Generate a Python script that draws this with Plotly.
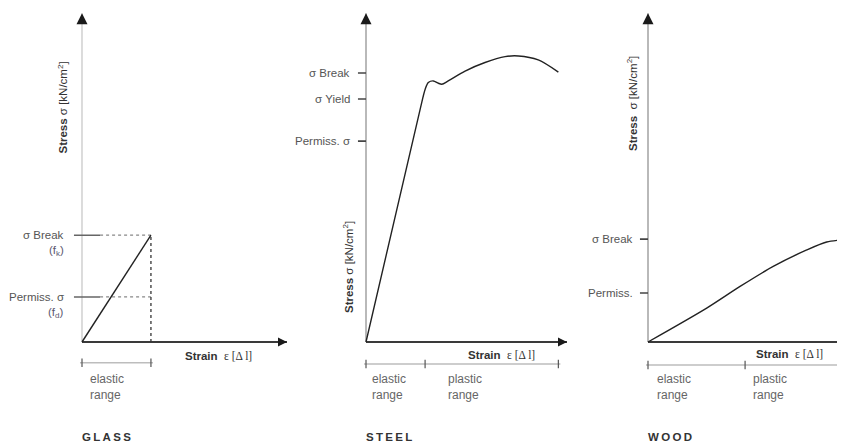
import plotly.graph_objects as go

# page body adds an 8px margin; the figure is shrunk and shifted to compensate
OFF = 8
W, H = 845 - OFF, 443 - OFF

# ---------------- data (strain: % of axis length, stress: % of axis height) ----------------
glass_strain = [0, 34.3]
glass_stress = [0, 32.5]
glass_ticks = [32.5, 13.7]
glass_tick_labels = ["σ Break", "Permiss. σ"]
glass_tick_sublabels = ["(f<sub>k</sub>)", "(f<sub>d</sub>)"]
glass_range_bounds = [0, 34.3]
glass_range_labels = ["elastic<br>range"]

steel_strain = [0, 26.9, 29.4, 31.0, 33.5, 36.0, 37.7, 40.9, 49.3, 59.2, 69.2, 75.8, 85.7, 95.7]
steel_stress = [0, 70.7, 76.8, 78.9, 79.4, 78.7, 78.4, 79.4, 82.4, 85.0, 86.8, 87.0, 85.8, 82.1]
steel_ticks = [81.8, 73.9, 61.1]
steel_tick_labels = ["σ Break", "σ Yield", "Permiss. σ"]
steel_range_bounds = [0, 29.4, 95.7]
steel_range_labels = ["elastic<br>range", "plastic<br>range"]

wood_strain = [0, 29.2, 45.8, 62.3, 79.0, 88.9, 97.2]
wood_stress = [0, 10.3, 16.9, 23.0, 28.0, 30.4, 31.1]
wood_ticks = [31.3, 14.9]
wood_tick_labels = ["σ Break", "Permiss."]
wood_range_bounds = [0, 48.3, 96.9]
wood_range_labels = ["elastic<br>range", "plastic<br>range"]

titles = ["GLASS", "STEEL", "WOOD"]

# ---------------- layout helpers ----------------
SX, SY = 2.01, 3.288  # px per unit
OY = 342
XMIN, YMIN, YMAX = -10, -12, 100
FONT = "Liberation Sans, Arial, sans-serif"


def px(xp):
    return (xp - OFF) / W


def py(yp):
    return 1 - (yp - OFF) / H


panels = [
    dict(ox=82, xmax=102, xtip=102, yaxis_color="#c4c4c4", strain=glass_strain, stress=glass_stress,
         ticks=glass_ticks, labels=glass_tick_labels, lab_right=66, bounds=glass_range_bounds,
         rlabels=glass_range_labels, rlab_px=[88], bracket_y=-6.3,
         stress_c=(62.5, 107), strain_c=(219, 356), stress_txt="<b>Stress</b> σ [kN/cm<sup>2</sup>]",
         shape="linear"),
    dict(ox=366, xmax=100, xtip=100, yaxis_color="#8a8a8a", strain=steel_strain, stress=steel_stress,
         ticks=steel_ticks, labels=steel_tick_labels, lab_right=352, bounds=steel_range_bounds,
         rlabels=steel_range_labels, rlab_px=[370, 446], bracket_y=-6.7,
         stress_c=(348, 267), strain_c=(501, 355), stress_txt="<b>Stress</b> σ [kN/cm<sup>2</sup>]",
         shape="spline"),
    dict(ox=648, xmax=98, xtip=104, yaxis_color="#8a8a8a", strain=wood_strain, stress=wood_stress,
         ticks=wood_ticks, labels=wood_tick_labels, lab_right=635, bounds=wood_range_bounds,
         rlabels=wood_range_labels, rlab_px=[655, 751], bracket_y=-7.0,
         stress_c=(632, 104), strain_c=(789, 354), stress_txt="<b>Stress</b>  σ [kN/cm<sup>2</sup>]",
         shape="spline"),
]

fig = go.Figure()
annotations = []
layout_axes = {}

for i, p in enumerate(panels):
    n = "" if i == 0 else str(i + 1)
    xa, ya = "x" + n, "y" + n
    ox = p["ox"]
    dom_x = [max(0, px(ox + XMIN * SX)), min(1, px(ox + p["xmax"] * SX))]
    dom_y = [py(OY - YMIN * SY), min(1, py(OY - YMAX * SY))]
    layout_axes["xaxis" + n] = dict(domain=dom_x, range=[XMIN, p["xmax"]], visible=False,
                                    anchor=ya, fixedrange=True)
    layout_axes["yaxis" + n] = dict(domain=dom_y, range=[YMIN, YMAX], visible=False,
                                    anchor=xa, fixedrange=True)

    def add(x, y, color, width, dash="solid", shape="linear"):
        fig.add_trace(go.Scatter(x=x, y=y, mode="lines", xaxis=xa, yaxis=ya, showlegend=False,
                                 hoverinfo="skip",
                                 line=dict(color=color, width=width, dash=dash, shape=shape,
                                           smoothing=0.8 if shape == "spline" else None)))

    # y axis
    add([0, 0], [0, YMAX], p["yaxis_color"], 1.2)
    # x axis
    add([0, p["xtip"]], [0, 0], "#3a3a3a", 1.8)

    # glass guide lines
    if i == 0:
        bx, by = glass_strain[-1], glass_stress[-1]
        for t in glass_ticks:
            add([-4, 9], [t, t], "#666666", 1.5)
            add([9, bx], [t, t], "#888888", 1.3, dash="dot")
        add([bx, bx], [0, by], "#333333", 1.3, dash="dot")
    else:
        tx, ty = [], []
        for t in p["ticks"]:
            tx += [-4, 0, None]
            ty += [t, t, None]
        add(tx, ty, "#444444", 1.6)

    # curve
    add(p["strain"], p["stress"], "#222222", 1.4, shape=p["shape"])

    # range bracket
    b = p["bounds"]
    byb = p["bracket_y"]
    add([b[0] - 1, b[-1] + 1], [byb, byb], "#bdbdbd", 1.5)
    bx_, by_ = [], []
    for v in b:
        bx_ += [v, v, None]
        by_ += [byb - 1.3, byb + 1.3, None]
    add(bx_, by_, "#555555", 1.2)

    # arrowheads (tip of each marker sits at the axis end)
    fig.add_trace(go.Scatter(x=[0], y=[YMAX], mode="markers", xaxis=xa, yaxis=ya, showlegend=False,
                             hoverinfo="skip", cliponaxis=False,
                             marker=dict(symbol="arrow-up", size=11, color="#1a1a1a", line=dict(width=0))))
    fig.add_trace(go.Scatter(x=[p["xtip"]], y=[0], mode="markers", xaxis=xa, yaxis=ya, showlegend=False,
                             hoverinfo="skip", cliponaxis=False,
                             marker=dict(symbol="arrow-right", size=9, color="#1a1a1a", line=dict(width=0))))

    # tick labels
    for t, lab in zip(p["ticks"], p["labels"]):
        annotations.append(dict(x=0, y=t, xref=xa, yref=ya, text=lab, showarrow=False,
                                xanchor="right", yanchor="middle", xshift=-(ox - p["lab_right"]),
                                font=dict(family=FONT, size=11.5, color="#555555")))
    if i == 0:
        for t, lab in zip(glass_ticks, glass_tick_sublabels):
            annotations.append(dict(x=0, y=t, xref=xa, yref=ya, text=lab, showarrow=False,
                                    xanchor="right", yanchor="middle", xshift=-(ox - p["lab_right"]),
                                    yshift=-16, font=dict(family=FONT, size=11.5, color="#5d5870")))

    # range labels
    for lab, lx in zip(p["rlabels"], p["rlab_px"]):
        annotations.append(dict(x=px(lx), y=py(370), xref="paper", yref="paper", text=lab,
                                showarrow=False, xanchor="left", yanchor="top", align="left",
                                font=dict(family=FONT, size=12, color="#666666")))

    # stress label (rotated)
    sx, sy = p["stress_c"]
    annotations.append(dict(x=px(sx), y=py(sy), xref="paper", yref="paper", text=p["stress_txt"],
                            showarrow=False, textangle=-90, xanchor="center", yanchor="middle",
                            font=dict(family=FONT, size=11.5, color="#333333")))
    # strain label
    cx, cy = p["strain_c"]
    annotations.append(dict(x=px(cx), y=py(cy), xref="paper", yref="paper",
                            text="<b>Strain</b>  <span style='font-family:Liberation Serif'>ε [Δ l]</span>",
                            showarrow=False, xanchor="center", yanchor="middle",
                            font=dict(family=FONT, size=11.5, color="#333333")))
    # title
    annotations.append(dict(x=px(ox - 2), y=py(437), xref="paper", yref="paper",
                            text="<b>" + "\u2009".join(titles[i]) + "</b>", showarrow=False,
                            xanchor="left", yanchor="middle",
                            font=dict(family=FONT, size=11.5, color="#333333")))

fig.update_layout(
    width=W, height=H,
    margin=dict(l=0, r=0, t=0, b=0),
    paper_bgcolor="white", plot_bgcolor="rgba(0,0,0,0)",
    annotations=annotations,
    **layout_axes,
)

fig.write_html("out.html", config={"displayModeBar": False})
